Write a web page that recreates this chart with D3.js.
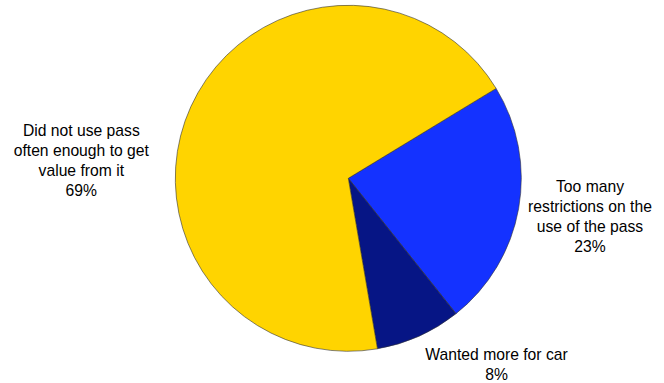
<!DOCTYPE html>
<html>
<head>
<meta charset="utf-8">
<script src="https://cdn.jsdelivr.net/npm/d3@7"></script>
<style>
  html, body { margin: 0; padding: 0; background: #fff; }
  svg { display: block; }
  text { font-family: "Liberation Sans", Arial, sans-serif; fill: #000; }
</style>
</head>
<body>
<svg id="chart" width="664" height="383"></svg>
<script>
// Data
const categories = [
  "Too many restrictions on the use of the pass",
  "Wanted more for car",
  "Did not use pass often enough to get value from it"
];
const values = [23, 8, 69];
const labelLines = [
  ["Too many", "restrictions on the", "use of the pass", "23%"],
  ["Wanted more for car", "8%"],
  ["Did not use pass", "often enough to get", "value from it", "69%"]
];
const colors = ["#1432FF", "#061585", "#FFD400"];

// Layout
const width = 664, height = 383;
const cx = 348.3, cy = 178.3, radius = 173;
const startDeg = 58.7;
const labelCenters = [[590, 216.5], [496.5, 364], [81.3, 160.3]];
const lineHeight = 20;
const fontSize = 15.7;

const svg = d3.select("#chart");
const g = svg.append("g").attr("transform", `translate(${cx},${cy})`);

const pie = d3.pie().sort(null).value(d => d)
  .startAngle(startDeg * Math.PI / 180)
  .endAngle(startDeg * Math.PI / 180 + 2 * Math.PI);
const arc = d3.arc().innerRadius(0).outerRadius(radius);
const color = d3.scaleOrdinal().domain(d3.range(values.length)).range(colors);

const arcs = pie(values);
g.selectAll("path.slice").data(arcs).enter().append("path")
  .attr("class", "slice")
  .attr("d", arc)
  .attr("fill", (d, i) => color(i))
  .attr("stroke", "#333")
  .attr("stroke-width", 0.6)
  .attr("stroke-linejoin", "round");

const labels = svg.selectAll("g.label").data(labelLines).enter().append("g")
  .attr("class", "label")
  .attr("transform", (d, i) => `translate(${labelCenters[i][0]},${labelCenters[i][1]})`);

labels.each(function(lines) {
  const n = lines.length;
  d3.select(this).selectAll("text").data(lines).enter().append("text")
    .attr("text-anchor", "middle")
    .attr("dominant-baseline", "central")
    .attr("font-size", fontSize)
    .attr("y", (l, j) => (j - (n - 1) / 2) * lineHeight)
    .text(l => l);
});
</script>
</body>
</html>
